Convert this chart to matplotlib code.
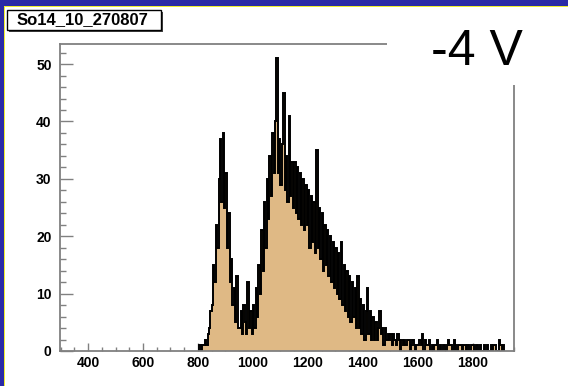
import numpy as np
import matplotlib
matplotlib.use('Agg')
import matplotlib.pyplot as plt
from matplotlib.patches import Rectangle
from matplotlib.ticker import MultipleLocator

# ---------------- data (counts per 5-unit bin, starting at 800) ----------------
bin_start = 800
bin_width = 5
counts = [
    0, 1, 0, 1, 1, 2, 1, 3, 4, 7,            # 800-845
    8, 15, 12, 22, 18, 30, 37, 26, 38, 25,   # 850-895
    31, 18, 24, 12, 16, 8, 11, 5, 13, 4,     # 900-945
    4, 7, 3, 8, 5, 3, 12, 4, 7, 3,           # 950-995
    8, 4, 11, 6, 15, 10, 21, 14, 26, 18,     # 1000-1045
    30, 23, 34, 27, 38, 31, 40, 51, 31, 37,  # 1050-1095
    29, 36, 45, 28, 34, 26, 41, 27, 33, 25,  # 1100-1145
    33, 24, 32, 23, 31, 22, 30, 21, 29, 22,  # 1150-1195
    28, 18, 27, 19, 26, 17, 35, 18, 25, 16,  # 1200-1245
    24, 14, 22, 15, 21, 13, 20, 12, 19, 11,  # 1250-1295
    18, 10, 17, 9, 19, 8, 15, 7, 14, 6,      # 1300-1345
    13, 5, 12, 6, 11, 4, 13, 4, 9, 3,        # 1350-1395
    8, 2, 7, 11, 3, 7, 2, 6, 2, 5,           # 1400-1445
    2, 4, 7, 3, 4, 1, 4, 2, 3, 2,            # 1450-1495
    3, 1, 3, 2, 1, 3, 2, 0, 2, 1,            # 1500-1545
    2, 1, 2, 2, 0, 1, 2, 1, 0, 1,            # 1550-1595
    1, 2, 1, 3, 0, 2, 1, 1, 2, 0,            # 1600-1645
    1, 0, 1, 1, 2, 0, 1, 0, 1, 1,            # 1650-1695
    0, 1, 2, 1, 1, 0, 2, 1, 0, 1,            # 1700-1745
    1, 1, 0, 1, 1, 0, 1, 0, 0, 1,            # 1750-1795
    1, 0, 1, 1, 0, 1, 0, 0, 1, 0,            # 1800-1845
    1, 0, 0, 1, 0, 1, 1, 0, 0, 2,            # 1850-1895
    1, 0, 1,                                 # 1900-1910
]
x_ticks = [400, 600, 800, 1000, 1200, 1400, 1600, 1800]
y_ticks = [0, 10, 20, 30, 40, 50]
title_text = "So14_10_270807"
voltage_text = "-4 V"

# ---------------- figure ----------------
W, H = 568, 386
fig = plt.figure(figsize=(W / 100, H / 100), dpi=100)
fig.patch.set_facecolor('#2a2aa6')


def rect(x0, y0, x1, y1, **kw):
    """Rectangle in image pixel coordinates (origin top-left)."""
    r = Rectangle((x0 / W, 1 - y1 / H), (x1 - x0) / W, (y1 - y0) / H,
                  transform=fig.transFigure, **kw)
    fig.add_artist(r)
    return r


# yellow border + white canvas
rect(4, 6, W + 2, H + 2, fc='#eeee30', ec='none', zorder=-10)
rect(5, 7, W + 2, H + 2, fc='white', ec='none', zorder=-9)

ax = fig.add_axes([60 / W, 1 - 351 / H, (514 - 60) / W, (351 - 44) / H])
ax.set_facecolor('white')

counts = np.array(counts, dtype=float)
edges = bin_start + bin_width * np.arange(len(counts) + 1)
ax.stairs(counts, edges, fill=True, color='#dfb985', zorder=2)
ax.stairs(counts, edges, color='black', lw=1.4, zorder=3)

ax.set_xlim(298, 1950)
ax.set_ylim(0, 53.5)

for s in ax.spines.values():
    s.set_color('#808080')
    s.set_linewidth(1.3)
    s.set_zorder(4)

ax.set_xticks(x_ticks)
ax.set_yticks(y_ticks)
ax.xaxis.set_minor_locator(MultipleLocator(50))
ax.yaxis.set_minor_locator(MultipleLocator(2))
ax.tick_params(axis='both', which='both', direction='in', color='#808080',
               labelcolor='black', top=False, right=False, width=1.0)
ax.tick_params(axis='y', which='major', length=9.4, pad=6)
ax.tick_params(axis='y', which='minor', length=4.3)
ax.tick_params(axis='x', which='major', length=5.8, pad=3.5)
ax.tick_params(axis='x', which='minor', length=3)
for lab in ax.get_xticklabels() + ax.get_yticklabels():
    lab.set_fontweight('bold')
    lab.set_fontsize(10)
    lab.set_family('Liberation Sans')

# white pave covering the top-right of the frame
rect(387, 7, W + 2, 85, fc='white', ec='none', zorder=5)
fig.text(431 / W, 1 - 65 / H, voltage_text, fontsize=36, family='Liberation Sans',
         va='baseline', ha='left', color='black', zorder=6)

# title box with shadow
rect(9, 12, 163, 32, fc='#444444', ec='none', zorder=6)
rect(7, 10, 161, 30, fc='white', ec='black', lw=1.0, zorder=7)
fig.text(17 / W, 1 - 20 / H, title_text, fontsize=12, fontweight='bold',
         family='Liberation Sans', va='center', ha='left', color='black', zorder=8)

fig.savefig('out.png', dpi=100, facecolor=fig.get_facecolor())
